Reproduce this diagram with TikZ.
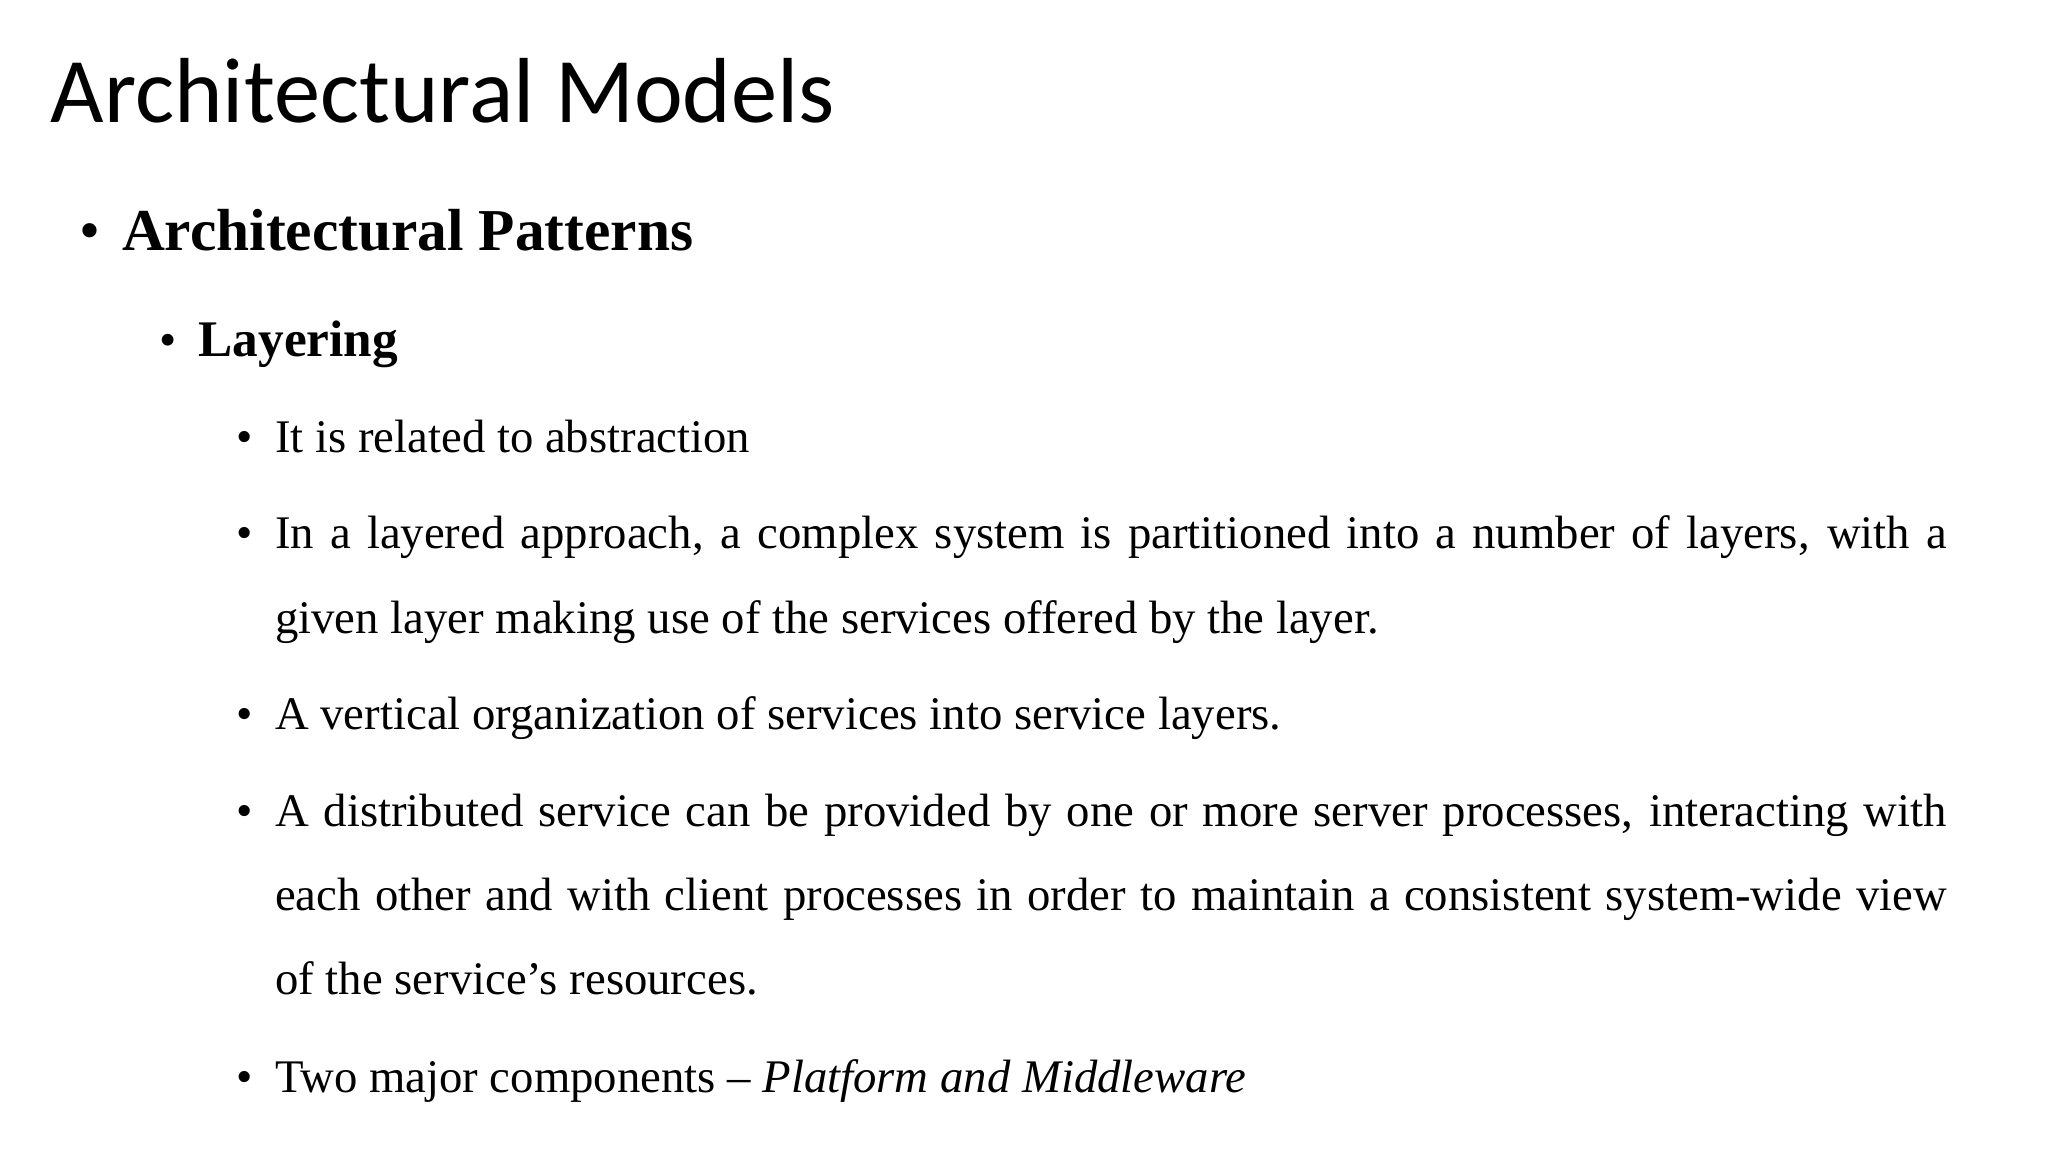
\documentclass[tikz,border=0pt]{standalone}
\usepackage{fontspec}
\setmainfont{Liberation Serif}
\newfontfamily\titlefont{Carlito}
\begin{document}
\begin{tikzpicture}[x=0.013196cm,y=-0.013196cm,
  every node/.style={inner sep=0pt,anchor=base west,text=black},
  body/.style={font=\fontsize{13.3}{16}\selectfont},
  bul/.style={font=\fontsize{13.3}{16}\selectfont}]
\useasboundingbox[fill=white] (0,0) rectangle (1552,873);
\node[font=\titlefont\fontsize{26.3}{30}\selectfont] (title) at (38,93) {Architectural Models};
\node[font=\fontsize{17}{20}\selectfont] (b1) at (60,190) {\textbullet};
\node[font=\bfseries\fontsize{16.9}{20}\selectfont] (t1) at (92,190) {Architectural Patterns};
\node[font=\fontsize{14}{18}\selectfont] (b2) at (120,270) {\textbullet};
\node[font=\bfseries\fontsize{14.6}{18}\selectfont] (t2) at (150,270) {Layering};
\foreach \y in {343,416,553,626,828}{\node[bul] at (179,\y) {\textbullet};}
\node[body] (l1) at (208,343) {It is related to abstraction};
\node[body] (l2) at (208,416) {\makebox[16.72cm][s]{In a layered approach, a complex system is partitioned into a number of layers, with a}};
\node[body] (l3) at (208,480) {given layer making use of the services offered by the layer.};
\node[body] (l4) at (208,553) {A vertical organization of services into service layers.};
\node[body] (l5) at (208,626) {\makebox[16.72cm][s]{A distributed service can be provided by one or more server processes, interacting with}};
\node[body] (l6) at (208,690) {\makebox[16.72cm][s]{each other and with client processes in order to maintain a consistent system-wide view}};
\node[body] (l7) at (208,754) {of the service’s resources.};
\node[body] (l8) at (208,828) {Two major components -- \textit{Platform and Middleware}};
\end{tikzpicture}
\end{document}
